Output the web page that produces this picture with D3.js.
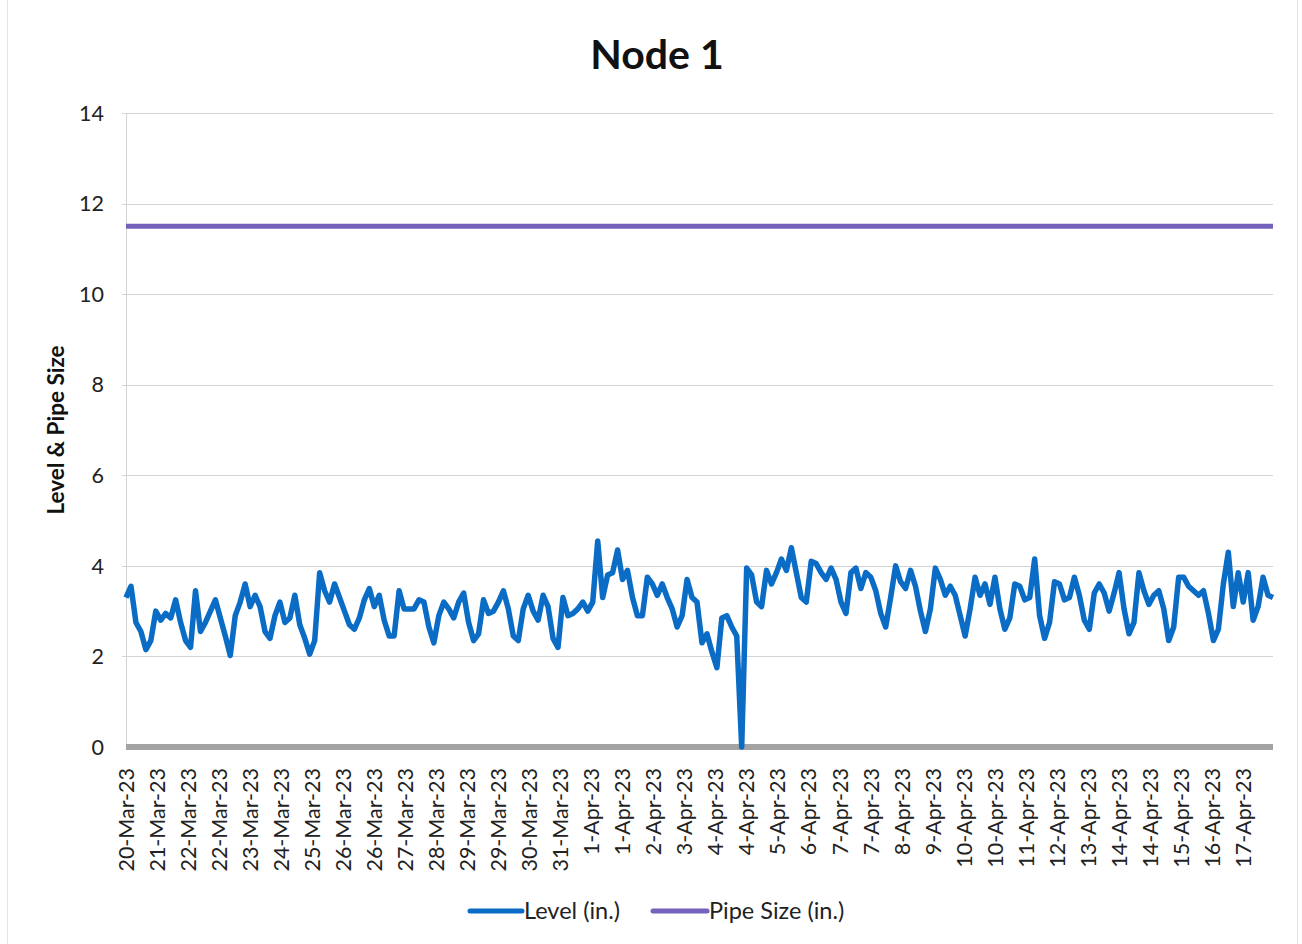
<!DOCTYPE html>
<html>
<head>
<meta charset="utf-8">
<script src="https://cdn.jsdelivr.net/npm/d3@7"></script>
<style>
  body { margin: 0; background: #fff; }
  svg { display: block; font-family: Lato, "Open Sans", sans-serif; }
  .grid line { stroke: #d4d4d4; stroke-width: 1; }
</style>
</head>
<body>
<div id="viz"></div>
<script>
var width = 1302;
var height = 944;

// level readings, one every 3 hours from 20-Mar-23 13:30
var levelStart = new Date(2023, 2, 20, 13, 30);
var stepHours = 3;
var levelValues = [
  3.3, 3.55, 2.75, 2.55, 2.15, 2.35, 3.0, 2.8, 2.95, 2.85,
  3.25, 2.75, 2.35, 2.2, 3.45, 2.55, 2.75, 3.0, 3.25, 2.85,
  2.45, 2.02, 2.9, 3.2, 3.6, 3.1, 3.35, 3.1, 2.55, 2.4,
  2.9, 3.2, 2.75, 2.85, 3.35, 2.7, 2.4, 2.05, 2.35, 3.85,
  3.45, 3.2, 3.6, 3.3, 3.0, 2.7, 2.6, 2.85,
  3.25, 3.5, 3.1, 3.35, 2.8, 2.45, 2.45, 3.45, 3.05, 3.05,
  3.05, 3.25, 3.2, 2.65, 2.3, 2.9, 3.2, 3.05, 2.85, 3.2,
  3.4, 2.75, 2.35, 2.5, 3.25, 2.95, 3.0, 3.2, 3.45, 3.05,
  2.45, 2.35, 3.05, 3.35, 3.0, 2.8, 3.35, 3.1, 2.4, 2.2,
  3.3, 2.9, 2.95, 3.05, 3.2, 3.0, 3.2,
  4.55, 3.3, 3.8, 3.85, 4.35, 3.7, 3.9, 3.3, 2.9, 2.9,
  3.75, 3.6, 3.35, 3.6, 3.3, 3.05, 2.65, 2.9, 3.7, 3.3,
  3.2, 2.3, 2.5, 2.1, 1.75, 2.85, 2.9, 2.65, 2.45, 0,
  3.95, 3.8, 3.2, 3.1, 3.9, 3.6, 3.85, 4.15, 3.9, 4.4,
  3.85, 3.3, 3.2, 4.1, 4.05, 3.85, 3.7,
  3.95, 3.7, 3.2, 2.95, 3.85, 3.95, 3.5, 3.85, 3.75, 3.45,
  2.95, 2.65, 3.3, 4.0, 3.65, 3.5, 3.9, 3.55, 3.0, 2.55,
  3.05, 3.95, 3.7, 3.35, 3.55, 3.35, 2.9, 2.45, 3.05, 3.75,
  3.35, 3.6, 3.15, 3.75, 3.05, 2.6, 2.85, 3.6, 3.55, 3.25,
  3.3, 4.15, 2.9, 2.4, 2.75, 3.65, 3.6,
  3.25, 3.3, 3.75, 3.35, 2.8, 2.6, 3.4, 3.6, 3.4, 3.0,
  3.4, 3.85, 3.05, 2.5, 2.75, 3.85, 3.45, 3.15, 3.35, 3.45,
  3.05, 2.35, 2.65, 3.75, 3.75, 3.55, 3.45, 3.35, 3.45, 2.95,
  2.35, 2.6, 3.6, 4.3, 3.1, 3.85, 3.2, 3.85, 2.8, 3.1,
  3.75, 3.35, 3.3
];
var pipeSize = 11.5;
var zeroSeries = 0;

var yTicks = [0, 2, 4, 6, 8, 10, 12, 14];
// category axis labels, one every 75 readings of 15 min
var labelEveryHours = 18.75;
var xTickLabels = [
  "20-Mar-23", "21-Mar-23", "22-Mar-23", "22-Mar-23", "23-Mar-23", "24-Mar-23",
  "25-Mar-23", "26-Mar-23", "26-Mar-23", "27-Mar-23", "28-Mar-23", "29-Mar-23",
  "29-Mar-23", "30-Mar-23", "31-Mar-23", "1-Apr-23", "1-Apr-23", "2-Apr-23",
  "3-Apr-23", "4-Apr-23", "4-Apr-23", "5-Apr-23", "6-Apr-23", "7-Apr-23",
  "7-Apr-23", "8-Apr-23", "9-Apr-23", "10-Apr-23", "10-Apr-23", "11-Apr-23",
  "12-Apr-23", "13-Apr-23", "14-Apr-23", "14-Apr-23", "15-Apr-23", "16-Apr-23",
  "17-Apr-23"
];

var hour = 3600 * 1000;
var levelData = levelValues.map(function(v, i) {
  return { t: new Date(levelStart.getTime() + i * stepHours * hour), v: v };
});
var tEnd = levelData[levelData.length - 1].t;

var plotLeft = 126, plotRight = 1273, plotTop = 113, plotBottom = 747;

var x = d3.scaleTime()
    .domain([levelStart, tEnd])
    .range([plotLeft, plotRight]);

var y = d3.scaleLinear()
    .domain([0, 14])
    .range([plotBottom, plotTop]);

var svg = d3.select("#viz").append("svg")
    .attr("width", width)
    .attr("height", height);

// faint outer frame
svg.append("line").attr("x1", 7.5).attr("x2", 7.5).attr("y1", 0).attr("y2", height)
    .style("stroke", "#e4e4e4");
svg.append("line").attr("x1", 1297.5).attr("x2", 1297.5).attr("y1", 0).attr("y2", height)
    .style("stroke", "#e4e4e4");

svg.append("text")
    .attr("x", 657)
    .attr("y", 69)
    .attr("text-anchor", "middle")
    .style("font-size", "41px")
    .style("font-weight", "bold")
    .style("fill", "#111")
    .text("Node 1");

// gridlines
svg.append("g")
    .attr("class", "grid")
    .selectAll("line")
    .data(yTicks.filter(function(d) { return d > 0; }))
    .enter().append("line")
    .attr("x1", plotLeft - 4)
    .attr("x2", plotRight)
    .attr("y1", function(d) { return Math.round(y(d)) + 0.5; })
    .attr("y2", function(d) { return Math.round(y(d)) + 0.5; });

svg.append("line")
    .attr("x1", plotLeft + 0.5).attr("x2", plotLeft + 0.5)
    .attr("y1", plotTop).attr("y2", plotBottom)
    .style("stroke", "#d4d4d4");

// y axis labels
svg.append("g")
    .selectAll("text")
    .data(yTicks)
    .enter().append("text")
    .attr("x", 104)
    .attr("y", function(d) { return y(d); })
    .attr("dy", "0.36em")
    .attr("text-anchor", "end")
    .style("font-size", "21.5px")
    .style("fill", "#222")
    .text(function(d) { return d; });

svg.append("text")
    .attr("transform", "translate(64," + ((plotTop + plotBottom) / 2) + ") rotate(-90)")
    .attr("text-anchor", "middle")
    .style("font-size", "22.5px")
    .style("font-weight", "bold")
    .style("fill", "#111")
    .text("Level & Pipe Size");

// x axis labels
svg.append("g")
    .selectAll("text")
    .data(xTickLabels)
    .enter().append("text")
    .attr("transform", function(d, i) {
      var tx = x(new Date(levelStart.getTime() + i * labelEveryHours * hour));
      return "translate(" + tx + ",768) rotate(-90)";
    })
    .attr("dy", "0.36em")
    .attr("text-anchor", "end")
    .style("font-size", "21.5px")
    .style("fill", "#222")
    .text(function(d) { return d; });

var line = d3.line()
    .x(function(d) { return x(d.t); })
    .y(function(d) { return y(d.v); });

// unlabelled zero series
svg.append("path")
    .datum([{ t: levelStart, v: zeroSeries }, { t: tEnd, v: zeroSeries }])
    .attr("d", line)
    .style("fill", "none")
    .style("stroke", "#a3a3a3")
    .style("stroke-width", 6);

svg.append("path")
    .datum([{ t: levelStart, v: pipeSize }, { t: tEnd, v: pipeSize }])
    .attr("d", line)
    .style("fill", "none")
    .style("stroke", "#7562bd")
    .style("stroke-width", 5);

svg.append("path")
    .datum(levelData)
    .attr("d", line)
    .style("fill", "none")
    .style("stroke", "#0a6cc4")
    .style("stroke-width", 5.5)
    .style("stroke-linejoin", "round");

// legend
var legend = [
  { name: "Level (in.)", color: "#0a6cc4", x1: 470, x2: 522 },
  { name: "Pipe Size (in.)", color: "#7562bd", x1: 653, x2: 707 }
];
var lg = svg.append("g").selectAll("g").data(legend).enter().append("g");
lg.append("line")
    .attr("x1", function(d) { return d.x1; })
    .attr("x2", function(d) { return d.x2; })
    .attr("y1", 911).attr("y2", 911)
    .style("stroke", function(d) { return d.color; })
    .style("stroke-width", 5)
    .style("stroke-linecap", "round");
lg.append("text")
    .attr("x", function(d) { return d.x2 + 2; })
    .attr("y", 911)
    .attr("dy", "0.36em")
    .style("font-size", "23.5px")
    .style("fill", "#222")
    .text(function(d) { return d.name; });
</script>
</body>
</html>
